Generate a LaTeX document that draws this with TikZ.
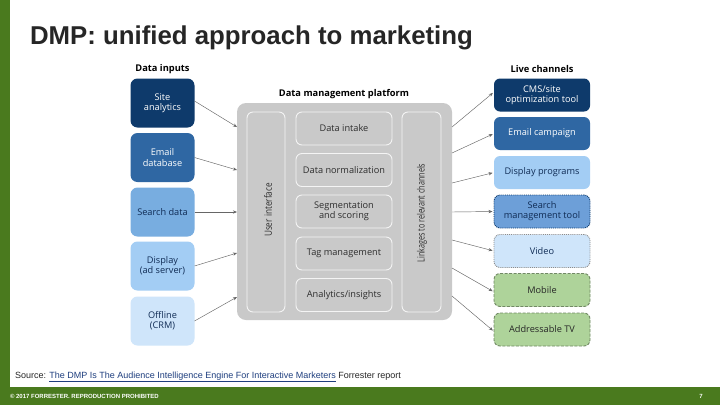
\documentclass[tikz,border=0pt]{standalone}
\usepackage{fontspec}
\usepackage{graphicx}
\setmainfont{Liberation Sans}
\newfontfamily\dfont{Open Sans}
\usetikzlibrary{arrows.meta}
\definecolor{fgreen}{HTML}{4A7A1E}
\definecolor{navy}{HTML}{0E3A6B}
\definecolor{midblue}{HTML}{2F67A3}
\definecolor{lblue}{HTML}{78ADE0}
\definecolor{llblue}{HTML}{A3CDF4}
\definecolor{vlblue}{HTML}{CFE5FA}
\definecolor{rblue}{HTML}{6D9FD8}
\definecolor{dmpgray}{HTML}{C9C9C9}
\definecolor{lgreen}{HTML}{AED39A}
\definecolor{txtnavy}{HTML}{102C55}
\definecolor{txtgray}{HTML}{2E2E2E}
\definecolor{linkblue}{HTML}{1F3F7F}
\begin{document}
\begin{tikzpicture}[x=1pt,y=-1pt,
  every node/.style={inner sep=0pt, outer sep=0pt},
  dfnt/.style={font=\dfont\fontsize{9.2}{10.2}\selectfont},
  hdr/.style={font=\dfont\bfseries\fontsize{9.3}{10}\selectfont, text=black},
  inbox/.style={dfnt, rounded corners=7pt, minimum width=64pt, minimum height=49pt, align=center},
  outbox/.style={dfnt, rounded corners=6pt, minimum width=96pt, minimum height=33pt, align=center},
  inner/.style={dfnt, text=txtgray, draw=white!80!dmpgray, line width=0.9pt, rounded corners=6pt, fill=dmpgray, align=center},
  rot/.style={font=\dfont\fontsize{10}{11}\selectfont, text=txtgray, rotate=90},
  arr/.style={-{Stealth[length=4pt,width=3.2pt]}, draw=black!60, line width=0.45pt},
  dotb/.style={draw=#1, line width=0.9pt, densely dotted},
  dashb/.style={draw=#1, line width=0.9pt, dash pattern=on 3pt off 1.5pt}
]
\useasboundingbox (0,0) rectangle (720,405);
\fill[white] (0,0) rectangle (720,405);
% frame
\fill[fgreen] (0,0) rectangle (10,388);
\fill[fgreen] (0,387) rectangle (720,405);
% title
\node[anchor=base west, font=\bfseries\fontsize{25.8}{28}\selectfont, text=black!85] (title) at (30,44) {DMP: unified approach to marketing};
% headers
\node[hdr] (hin) at (162.5,69) {Data inputs};
\node[hdr] (hdmp) at (344,94) {Data management platform};
\node[hdr] (hout) at (542,69) {Live channels};
% input boxes
\node[inbox, fill=navy, text=white] (in1) at (162.5,103) {Site\\analytics};
\node[inbox, fill=midblue, text=white] (in2) at (162.5,157.5) {Email\\database};
\node[inbox, fill=lblue, text=txtnavy] (in3) at (162.5,212) {Search data};
\node[inbox, fill=llblue, text=txtnavy] (in4) at (162.5,266) {Display\\(ad server)};
\node[inbox, fill=vlblue, text=txtnavy] (in5) at (162.5,321) {Offline\\(CRM)};
% DMP
\node[fill=dmpgray, rounded corners=9pt, minimum width=215pt, minimum height=217pt] (dmp) at (344.5,211.5) {};
\node[inner, minimum width=38pt, minimum height=200pt] (ui) at (266,212) {};
\node[rot] (uit) at (268,210) {\scalebox{0.82}[1]{User interface}};
\node[inner, minimum width=39pt, minimum height=200pt] (lk) at (421.5,212) {};
\node[rot] (lkt) at (422,213) {\scalebox{0.72}[1]{Linkages to relevant channels}};
\node[inner, minimum width=96pt, minimum height=33pt] (m1) at (344,128.5) {Data intake};
\node[inner, minimum width=96pt, minimum height=33pt] (m2) at (344,170) {Data normalization};
\node[inner, minimum width=96pt, minimum height=33pt] (m3) at (344,211.5) {Segmentation\\and scoring};
\node[inner, minimum width=96pt, minimum height=33pt] (m4) at (344,253.5) {Tag management};
\node[inner, minimum width=96pt, minimum height=33pt] (m5) at (344,295) {Analytics/insights};
% output boxes
\node[outbox, fill=navy, text=white] (o1) at (542,95) {CMS/site\\optimization tool};
\node[outbox, fill=midblue, text=white] (o2) at (542,133.5) {Email campaign};
\node[outbox, fill=llblue, text=txtnavy] (o3) at (542,172.5) {Display programs};
\node[outbox, fill=rblue, text=txtnavy, dotb=navy] (o4) at (542,211.5) {Search\\management tool};
\node[outbox, fill=vlblue, text=txtnavy, dotb=black!45] (o5) at (542,251) {Video};
\node[outbox, fill=lgreen, text=black!85, dashb=black!35!lgreen] (o6) at (542,290) {Mobile};
\node[outbox, fill=lgreen, text=black!85, dashb=black!35!lgreen] (o7) at (542,329.5) {Addressable TV};
% connector end points on the DMP edges
\coordinate (dl1) at (dmp.west |- 0,127);
\coordinate (dl2) at (dmp.west |- 0,170);
\coordinate (dl3) at (dmp.west |- 0,212);
\coordinate (dl4) at (dmp.west |- 0,253);
\coordinate (dl5) at (dmp.west |- 0,297);
\coordinate (dr1) at (dmp.east |- 0,127);
\coordinate (dr2) at (dmp.east |- 0,153);
\coordinate (dr3) at (dmp.east |- 0,183);
\coordinate (dr4) at (dmp.east |- 0,212);
\coordinate (dr5) at (dmp.east |- 0,240);
\coordinate (dr6) at (dmp.east |- 0,268);
\coordinate (dr7) at (dmp.east |- 0,296);
\draw[arr] ([yshift=2pt]in1.east) -- (dl1);
\draw[arr] (in2.east) -- (dl2);
\draw[arr] (in3.east) -- (dl3);
\draw[arr] (in4.east) -- (dl4);
\draw[arr] (in5.east) -- (dl5);
\draw[arr, shorten >=1.5pt] (dr1) -- ([yshift=3pt]o1.west);
\draw[arr, shorten >=1.5pt] (dr2) -- (o2.west);
\draw[arr, shorten >=1.5pt] (dr3) -- (o3.west);
\draw[arr, shorten >=1.5pt] (dr4) -- (o4.west);
\draw[arr, shorten >=1.5pt] (dr5) -- (o5.west);
\draw[arr, shorten >=1.5pt] (dr6) -- ([yshift=-2pt]o6.west);
\draw[arr, shorten >=1.5pt] (dr7) -- ([yshift=-2pt]o7.west);
% source
\node[anchor=base west, font=\fontsize{9}{10}\selectfont, text=black!85] (src) at (15,378) {Source: \textcolor{linkblue}{\underline{The DMP Is The Audience Intelligence Engine For Interactive Marketers}} Forrester report};
% footer
\node[anchor=base west, font=\bfseries\fontsize{6}{7}\selectfont, text=white] (foot) at (10,398) {\textcopyright{} 2017 FORRESTER. REPRODUCTION PROHIBITED};
\node[anchor=base, font=\bfseries\fontsize{6}{7}\selectfont, text=white] (pg) at (701,398) {7};
\end{tikzpicture}
\end{document}
